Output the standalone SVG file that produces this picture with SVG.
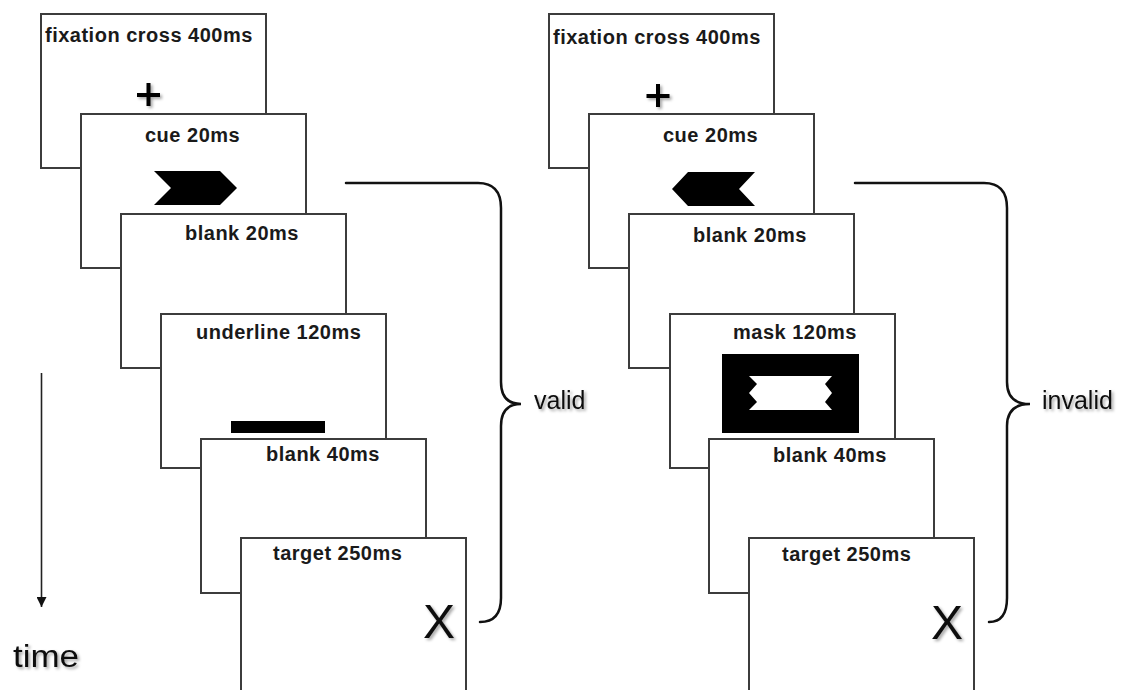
<svg xmlns="http://www.w3.org/2000/svg" width="1122" height="690" viewBox="0 0 1122 690">
  <defs>
    <style>
      .frame { fill: #ffffff; stroke: #3c3c3c; stroke-width: 2; }
      .lbl { font-family: "Liberation Sans", Arial, sans-serif; font-weight: bold; font-size: 20px; letter-spacing: 0.5px; fill: #1a1a1a; }
      .big { font-family: "Liberation Sans", Arial, sans-serif; fill: #111111; }
      .shape { fill: #000000; }
      .brace { fill: none; stroke: #111111; stroke-width: 2.5; stroke-linecap: round; }
      .cross { fill: none; stroke: #000000; stroke-width: 4; }
    </style>
    <filter id="soft" x="-30%" y="-30%" width="160%" height="160%">
      <feDropShadow dx="2" dy="2" stdDeviation="1.5" flood-color="#000000" flood-opacity="0.35"/>
    </filter>
    <marker id="arrow" markerWidth="10" markerHeight="10" refX="10" refY="5" orient="auto" markerUnits="userSpaceOnUse" viewBox="0 0 10 10">
      <path d="M0,0 L10,5 L0,10 Z" fill="#111111"/>
    </marker>
  </defs>

  <!-- valid sequence -->
  <g id="valid-fixation">
    <rect class="frame" x="41" y="14" width="225" height="154"/>
    <text class="lbl" x="45" y="42">fixation cross 400ms</text>
    <path class="cross" d="M137,95 H160 M148.5,83 V106" filter="url(#soft)"/>
  </g>
  <g id="valid-cue">
    <rect class="frame" x="81" y="114" width="225" height="154"/>
    <text class="lbl" x="145" y="142">cue 20ms</text>
    <polygon class="shape" points="154,171 220,171 237,188 220,205 154,205 171,188"/>
  </g>
  <g id="valid-blank20">
    <rect class="frame" x="121" y="214" width="225" height="154"/>
    <text class="lbl" x="185" y="240">blank 20ms</text>
  </g>
  <g id="valid-underline">
    <rect class="frame" x="161" y="314" width="225" height="154"/>
    <text class="lbl" x="196" y="339">underline 120ms</text>
    <rect class="shape" x="231" y="421" width="94" height="12"/>
  </g>
  <g id="valid-blank40">
    <rect class="frame" x="201" y="439" width="225" height="154"/>
    <text class="lbl" x="266" y="461">blank 40ms</text>
  </g>
  <g id="valid-target">
    <rect class="frame" x="241" y="538" width="225" height="170"/>
    <text class="lbl" x="273" y="560">target 250ms</text>
    <text class="big" x="439" y="638" font-size="48" text-anchor="middle" filter="url(#soft)">X</text>
  </g>

  <!-- invalid sequence -->
  <g id="invalid-fixation">
    <rect class="frame" x="549" y="14" width="225" height="154"/>
    <text class="lbl" x="553" y="44">fixation cross 400ms</text>
    <path class="cross" d="M646.5,96 H669.5 M658,84 V107" filter="url(#soft)"/>
  </g>
  <g id="invalid-cue">
    <rect class="frame" x="589" y="114" width="225" height="154"/>
    <text class="lbl" x="663" y="142">cue 20ms</text>
    <polygon class="shape" points="672,189 688,172 755,172 739,189 755,206 688,206"/>
  </g>
  <g id="invalid-blank20">
    <rect class="frame" x="629" y="214" width="225" height="154"/>
    <text class="lbl" x="693" y="242">blank 20ms</text>
  </g>
  <g id="invalid-mask">
    <rect class="frame" x="670" y="314" width="225" height="154"/>
    <text class="lbl" x="733" y="339">mask 120ms</text>
    <rect class="shape" x="722" y="354" width="137" height="79"/>
    <polygon fill="#ffffff" points="749,376 832,376 825,384 832,393 825,402 832,410 749,410 757,402 749,393 757,384"/>
  </g>
  <g id="invalid-blank40">
    <rect class="frame" x="709" y="439" width="225" height="154"/>
    <text class="lbl" x="773" y="462">blank 40ms</text>
  </g>
  <g id="invalid-target">
    <rect class="frame" x="749" y="538" width="225" height="170"/>
    <text class="lbl" x="782" y="561">target 250ms</text>
    <text class="big" x="947" y="639" font-size="48" text-anchor="middle" filter="url(#soft)">X</text>
  </g>

  <!-- braces and time axis -->
  <g id="connectors">
    <path class="brace" d="M346,183 H478 Q501,183 501,208 V382 Q501,404 521,404 Q501,404 501,426 V598 Q501,622 480,622"/>
    <path class="brace" d="M855,183 H984 Q1007,183 1007,208 V382 Q1007,404 1030,404 Q1007,404 1007,426 V598 Q1007,622 989,622"/>
    <line x1="41.5" y1="373" x2="41.5" y2="607" stroke="#222222" stroke-width="1.6" marker-end="url(#arrow)"/>
  </g>

  <g id="labels">
    <text class="big" x="534" y="409" font-size="25" filter="url(#soft)">valid</text>
    <text class="big" x="1042" y="409" font-size="25" filter="url(#soft)">invalid</text>
    <text class="big" x="13" y="667" font-size="31" textLength="66" lengthAdjust="spacingAndGlyphs" filter="url(#soft)">time</text>
  </g>
</svg>
